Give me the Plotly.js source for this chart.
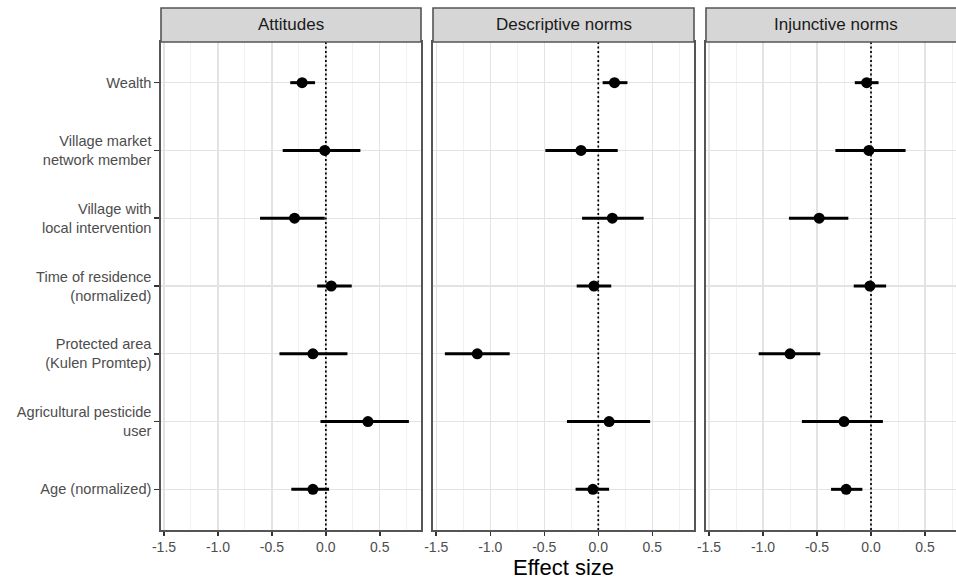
<!DOCTYPE html>
<html>
<head>
<meta charset="utf-8">
<script src="https://cdn.plot.ly/plotly-3.0.1.min.js"></script>
<style>html,body{margin:0;padding:0;background:#fff;}#chart{width:956px;height:581px;}</style>
</head>
<body>
<div id="chart"></div>
<script>
// ---- data ----
const panels = ['Attitudes', 'Descriptive norms', 'Injunctive norms'];
const categories = ['Wealth', 'Village market<br>network member', 'Village with<br>local intervention',
  'Time of residence<br>(normalized)', 'Protected area<br>(Kulen Promtep)', 'Agricultural pesticide<br>user',
  'Age (normalized)'];

const attEst = [-0.22, -0.01, -0.29, 0.05, -0.12, 0.39, -0.12];
const attLo  = [-0.33, -0.40, -0.61, -0.08, -0.43, -0.05, -0.32];
const attHi  = [-0.10, 0.32, -0.01, 0.24, 0.20, 0.77, 0.03];

const desEst = [0.15, -0.16, 0.13, -0.04, -1.12, 0.10, -0.05];
const desLo  = [0.04, -0.49, -0.15, -0.20, -1.42, -0.29, -0.21];
const desHi  = [0.27, 0.18, 0.42, 0.12, -0.82, 0.48, 0.10];

const injEst = [-0.04, -0.02, -0.48, -0.01, -0.75, -0.25, -0.23];
const injLo  = [-0.15, -0.33, -0.76, -0.16, -1.04, -0.64, -0.37];
const injHi  = [0.07, 0.32, -0.21, 0.14, -0.47, 0.11, -0.08];

const tickVals = [-1.5, -1.0, -0.5, 0.0, 0.5];
const tickText = ['-1.5', '-1.0', '-0.5', '0.0', '0.5'];

// ---- layout helpers ----
const FONT = 'Liberation Sans, Arial, Helvetica, sans-serif';
const series = [[attEst, attLo, attHi], [desEst, desLo, desHi], [injEst, injLo, injHi]];
const domains = [[0, 0.32704], [0.34214, 0.67044], [0.68553, 1]];
const ranges = [[-1.528, 0.882], [-1.53, 0.886], [-1.528, 0.787]];
const stripTop = 1 + 34 / 488;

const traces = series.map((s, i) => ({
  type: 'scatter', mode: 'markers',
  x: s[0], y: categories,
  xaxis: i === 0 ? 'x' : 'x' + (i + 1),
  yaxis: i === 0 ? 'y' : 'y' + (i + 1),
  marker: {color: '#000', size: 11},
  error_x: {
    type: 'data', symmetric: false,
    array: s[0].map((v, k) => s[2][k] - v),
    arrayminus: s[0].map((v, k) => v - s[1][k]),
    color: '#000', thickness: 3, width: 0
  },
  hoverinfo: 'x+y', showlegend: false
}));

const layout = {
  width: 956, height: 581,
  margin: {l: 161, r: 0, t: 42, b: 51},
  paper_bgcolor: '#fff', plot_bgcolor: '#fff',
  font: {family: FONT, color: '#4d4d4d'},
  showlegend: false,
  shapes: [], annotations: []
};

for (let i = 0; i < 3; i++) {
  const xk = i === 0 ? 'xaxis' : 'xaxis' + (i + 1);
  const yk = i === 0 ? 'yaxis' : 'yaxis' + (i + 1);
  const xr = i === 0 ? 'x' : 'x' + (i + 1);
  const yr = i === 0 ? 'y' : 'y' + (i + 1);
  layout[xk] = {
    domain: domains[i], anchor: yr, range: ranges[i],
    tickvals: tickVals, ticktext: tickText,
    ticks: 'outside', ticklen: 4, tickwidth: 1.5, tickcolor: '#333',
    tickfont: {size: 14, color: '#4d4d4d', family: FONT},
    showgrid: true, gridcolor: '#e3e3e3', gridwidth: 1.4,
    minor: {dtick: 0.25, tick0: 0, showgrid: true, gridcolor: '#efefef', gridwidth: 0.9},
    zeroline: false,
    showline: true, linecolor: '#555', linewidth: 1.6, mirror: true,
    fixedrange: true
  };
  layout[yk] = {
    domain: [0, 1], anchor: xr,
    type: 'category', categoryorder: 'array', categoryarray: categories,
    range: [6.6, -0.6],
    showticklabels: i === 0,
    ticks: i === 0 ? 'outside' : '', ticklen: 5, tickwidth: 1.5, tickcolor: '#333',
    tickfont: {size: 14.6, color: '#4d4d4d', family: FONT},
    showgrid: true, gridcolor: '#e3e3e3', gridwidth: 1.4,
    zeroline: false,
    showline: true, linecolor: '#555', linewidth: 1.6, mirror: i < 2,
    fixedrange: true
  };
  // zero reference line
  layout.shapes.push({
    type: 'line', xref: xr, yref: 'paper', x0: 0, x1: 0, y0: 0, y1: 1,
    line: {color: '#000', width: 1.7, dash: '2px,2.5px'}, layer: 'above'
  });
  // facet strip
  layout.shapes.push({
    type: 'rect', xref: 'paper', yref: 'paper',
    x0: domains[i][0], x1: i === 2 ? 1.02 : domains[i][1], y0: 1, y1: stripTop,
    fillcolor: '#d6d6d6', line: {color: '#555', width: 1.6}, layer: 'above'
  });
  layout.annotations.push({
    xref: 'paper', yref: 'paper',
    x: (domains[i][0] + (i === 2 ? 1.0126 : domains[i][1])) / 2, y: (1 + stripTop) / 2,
    text: panels[i], showarrow: false, xanchor: 'center', yanchor: 'middle',
    font: {size: 17, color: '#1a1a1a', family: FONT}
  });
}
layout.xaxis2.title = {text: 'Effect size', font: {size: 22, color: '#000', family: FONT}, standoff: 4};

Plotly.newPlot('chart', traces, layout, {displayModeBar: false, staticPlot: true});
</script>
</body>
</html>
